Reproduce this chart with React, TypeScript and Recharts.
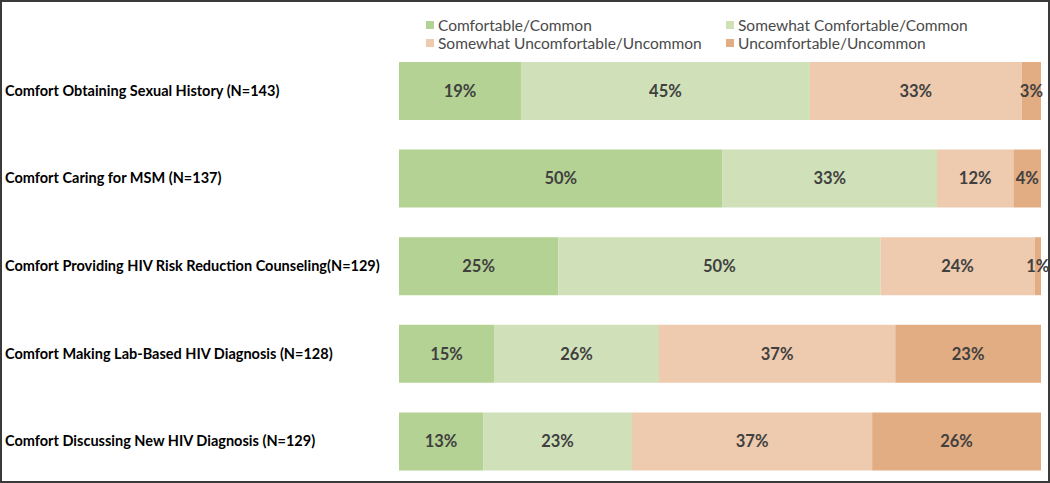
import { BarChart, Bar, XAxis, YAxis, LabelList } from 'recharts';

const categories = [
  'Comfort Obtaining Sexual History (N=143)',
  'Comfort Caring for MSM (N=137)',
  'Comfort Providing HIV Risk Reduction Counseling(N=129)',
  'Comfort Making Lab-Based HIV Diagnosis (N=128)',
  'Comfort Discussing New HIV Diagnosis (N=129)',
];

const seriesNames = [
  'Comfortable/Common',
  'Somewhat Comfortable/Common',
  'Somewhat Uncomfortable/Uncommon',
  'Uncomfortable/Uncommon',
];

// percentages (labels show the rounded value)
const comfortable = [19, 50.4, 24.8, 14.8, 13.1];
const somewhatComfortable = [45, 33.4, 50.2, 25.7, 23.2];
const somewhatUncomfortable = [33, 11.9, 24, 36.8, 37.4];
const uncomfortable = [3, 4.3, 1, 22.7, 26.3];

const COLORS = ['#b4d293', '#d0e1b9', '#eecaae', '#e3ad83'];
const KEYS = ['c', 'sc', 'su', 'u'];

const data = categories.map((name, i) => ({
  name,
  c: comfortable[i],
  sc: somewhatComfortable[i],
  su: somewhatUncomfortable[i],
  u: uncomfortable[i],
}));

const FONT = 'Lato, "Open Sans", sans-serif';

function CategoryTick({ y, payload }: any) {
  return (
    <text x={5} y={y} dy={5} textAnchor="start" fontFamily={FONT} fontWeight={700} fontSize={14.5} fill="#000">
      {payload.value}
    </text>
  );
}

function LegendBox() {
  return (
    <div
      style={{
        position: 'absolute',
        left: 426,
        top: 16,
        display: 'grid',
        gridTemplateColumns: '300px 300px',
        fontFamily: FONT,
        fontSize: 15.5,
        color: '#4a4a4a',
        lineHeight: '18px',
        whiteSpace: 'nowrap',
      }}
    >
      {[0, 1, 2, 3].map((i) => (
        <div key={i} style={{ display: 'flex', alignItems: 'center' }}>
          <span
            style={{ width: 8, height: 8, flexShrink: 0, background: COLORS[i], marginRight: 4, display: 'inline-block' }}
          />
          <span>{seriesNames[i]}</span>
        </div>
      ))}
    </div>
  );
}

const pct = (v: any) => `${Math.round(Number(v))}%`;

export default function App() {
  return (
    <div style={{ position: 'absolute', left: 0, top: 0, width: 1050, height: 483, overflow: 'hidden', background: '#fff' }}>
      <BarChart
        width={1050}
        height={490}
        data={data}
        layout="vertical"
        margin={{ top: 47, right: 9, bottom: 5, left: 0 }}
        barSize={58}
      >
        <XAxis type="number" domain={[0, 100]} hide />
        <YAxis
          type="category"
          dataKey="name"
          width={399}
          axisLine={false}
          tickLine={false}
          tick={<CategoryTick />}
        />
        {KEYS.map((k, i) => (
          <Bar key={k} dataKey={k} name={seriesNames[i]} stackId="a" fill={COLORS[i]} isAnimationActive={false}>
            <LabelList
              dataKey={k}
              position="center"
              formatter={pct}
              fill="#404040"
              fontFamily={FONT}
              fontWeight={700}
              fontSize={16.5}
            />
          </Bar>
        ))}
      </BarChart>
      <LegendBox />
      <div
        style={{
          position: 'absolute',
          inset: 0,
          border: '2px solid #3a3a3a',
          boxSizing: 'border-box',
          pointerEvents: 'none',
        }}
      />
    </div>
  );
}
